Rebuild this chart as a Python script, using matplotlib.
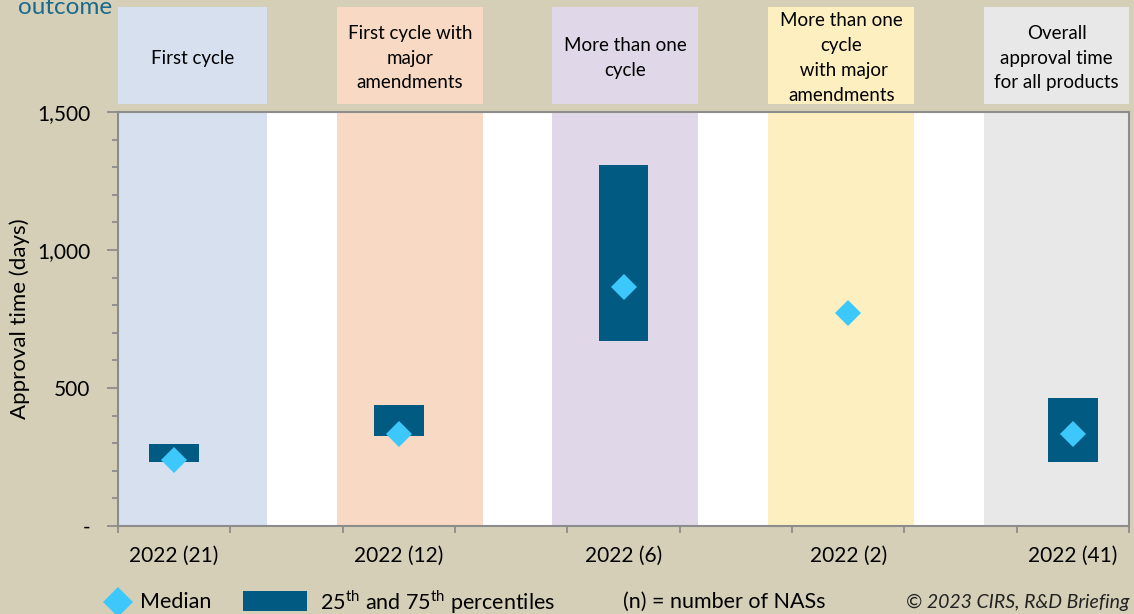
import matplotlib
matplotlib.use('Agg')
import matplotlib.pyplot as plt
import matplotlib.transforms as mtransforms
from matplotlib.patches import Rectangle
from matplotlib.lines import Line2D
from matplotlib.ticker import FuncFormatter, MultipleLocator

# data
labels = ['2022 (21)', '2022 (12)', '2022 (6)', '2022 (2)', '2022 (41)']
headers = ['First cycle', 'First cycle with\nmajor\namendments', 'More than one\ncycle',
           'More than one\ncycle\n with major\namendments', 'Overall\napproval time\nfor all products']
q1 = [231, 325, 669, None, 231]
q3 = [296, 437, 1308, None, 463]
median = [239, 332, 867, 773, 332]

band_colors = ['#d6e0ef', '#f8d9c3', '#e0d8e8', '#fdefc0', '#e8e8e8']
band_spans = [(0.0, 1.33), (1.95, 3.25), (3.865, 5.165), (5.79, 7.09), (7.71, 9.0)]
bg = '#d5cfb7'
box_col = '#015a82'
med_col = '#3cc8fb'

plt.rcParams['font.family'] = ['Lato', 'DejaVu Sans']
plt.rcParams['mathtext.fontset'] = 'custom'
plt.rcParams['mathtext.rm'] = 'Lato'

fig = plt.figure(figsize=(11.34, 6.14), dpi=100, facecolor=bg)
ax = fig.add_axes([118/1134, 88/614, 1011/1134, 414/614])
ax.set_facecolor('white')

xpos = [0.5 + 2*i for i in range(len(labels))]

# background bands and header boxes above the plot
hdr = mtransforms.blended_transform_factory(ax.transData, ax.transAxes)
for (x0, x1), c, h in zip(band_spans, band_colors, headers):
    ax.axvspan(x0, x1, color=c, zorder=0, lw=0)
    ax.add_patch(Rectangle((x0, 1.019), x1 - x0, 0.2345, transform=hdr,
                           facecolor=c, edgecolor='none', clip_on=False))
    ax.text((x0 + x1)/2, 1.1304, h, transform=hdr, ha='center', va='center',
            fontsize=13.5, linespacing=1.56, color='black')

# interquartile boxes
for x, a, b in zip(xpos, q1, q3):
    if a is None:
        continue
    ax.bar(x, b - a, bottom=a, width=0.445, color=box_col, zorder=2)

ax.plot(xpos, median, linestyle='none', marker='D', markersize=13,
        color=med_col, markeredgewidth=0, zorder=3)

ax.set_xlim(0, 9)
ax.set_ylim(0, 1500)
ax.set_xticks(range(10))
ax.set_xticklabels([])
ax.set_xticks(xpos, minor=True)
ax.set_xticklabels(labels, minor=True, fontsize=15)
ax.tick_params(axis='x', which='major', length=5, color='#8c8c8c', width=1.3, direction='out')
ax.tick_params(axis='x', which='minor', length=0, pad=14)

ax.yaxis.set_major_locator(MultipleLocator(500))
ax.yaxis.set_minor_locator(MultipleLocator(100))
ax.yaxis.set_major_formatter(FuncFormatter(lambda v, p: '-' if v == 0 else f'{v:,.0f}'))
ax.tick_params(axis='y', which='major', length=8, color='#8c8c8c', width=1.3, labelsize=15, pad=12)
ax.tick_params(axis='y', which='minor', length=4, color='#8c8c8c', width=1.3)
ax.set_ylabel('Approval time (days)', fontsize=16, labelpad=5)

for s in ax.spines.values():
    s.set_color('#8c8c8c')
    s.set_linewidth(1.5)

# title fragment cut off at the top
fig.text(18/1134, 1 - 14/614, 'outcome', fontsize=17.5, color='#1b6a8c', ha='left', va='baseline')

# legend row
ly = 1 - 602/614
fig.add_artist(Line2D([118/1134], [ly], marker='D', markersize=15, color=med_col,
                      markeredgewidth=0, linestyle='none', transform=fig.transFigure))
fig.text(140/1134, ly, 'Median', fontsize=15.5, va='center')
fig.add_artist(Rectangle((243/1134, 1 - 611/614), 64/1134, 20/614, facecolor=box_col,
                         edgecolor='none', transform=fig.transFigure))
fig.text(320/1134, ly, '25$^{\\mathrm{th}}$ and 75$^{\\mathrm{th}}$ percentiles', fontsize=15.5, va='center')
fig.text(623/1134, ly, '(n) = number of NASs', fontsize=15.5, va='center')
fig.text(1130/1134, ly, '\u00a9 2023 CIRS, R&D Briefing', fontsize=14, style='italic',
         ha='right', va='center', color='#222222')

fig.savefig('out.png', dpi=100, facecolor=bg)
